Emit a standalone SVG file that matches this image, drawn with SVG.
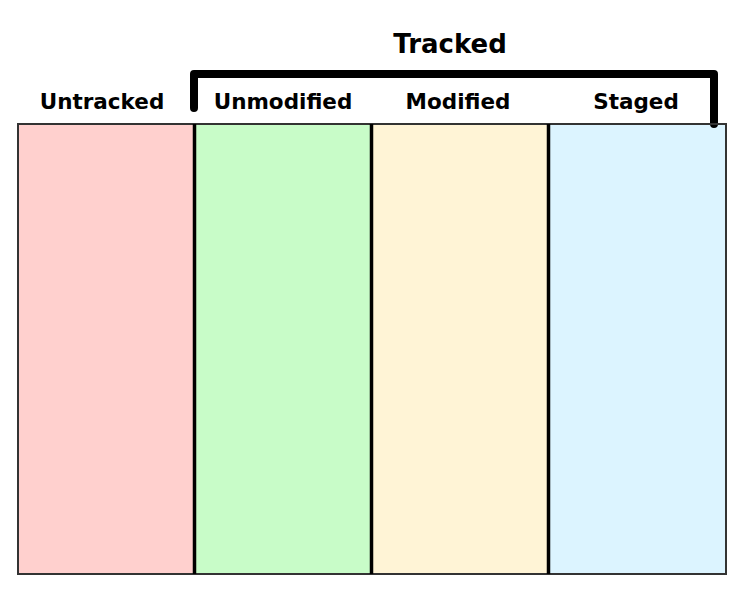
<svg xmlns="http://www.w3.org/2000/svg" width="742" height="590" viewBox="0 0 742 590">
<style>
text{font-family:"DejaVu Sans","Liberation Sans",sans-serif;font-weight:bold;fill:#000;text-anchor:middle}
.lbl{font-size:21.5px}
.col{stroke:none}
.div{stroke:#000;stroke-width:3.5}
</style>
<rect width="742" height="590" fill="#fff"/>
<g id="untracked"><rect class="col" x="18" y="124" width="177" height="450" fill="#ffd0ce"/><text class="lbl" x="102" y="109">Untracked</text></g>
<g id="unmodified"><rect class="col" x="195" y="124" width="176" height="450" fill="#c8fcc8"/><text class="lbl" x="283" y="109">Unmodified</text></g>
<g id="modified"><rect class="col" x="371" y="124" width="178" height="450" fill="#fff4d6"/><text class="lbl" x="458" y="109">Modified</text></g>
<g id="staged"><rect class="col" x="549" y="124" width="177" height="450" fill="#dcf4ff"/><text class="lbl" x="636" y="109">Staged</text></g>
<g id="tracked"><path d="M194 108 V74 H714 V124" fill="none" stroke="#000" stroke-width="8" stroke-linecap="round" stroke-linejoin="round"/><text x="450" y="53" font-size="26">Tracked</text></g>
<g id="lines">
<rect x="18" y="124" width="708" height="450" fill="none" stroke="#333" stroke-width="2"/>
<line class="div" x1="194.5" y1="124" x2="194.5" y2="574"/>
<line class="div" x1="371.5" y1="124" x2="371.5" y2="574"/>
<line class="div" x1="548.5" y1="124" x2="548.5" y2="574"/>
</g>
</svg>
